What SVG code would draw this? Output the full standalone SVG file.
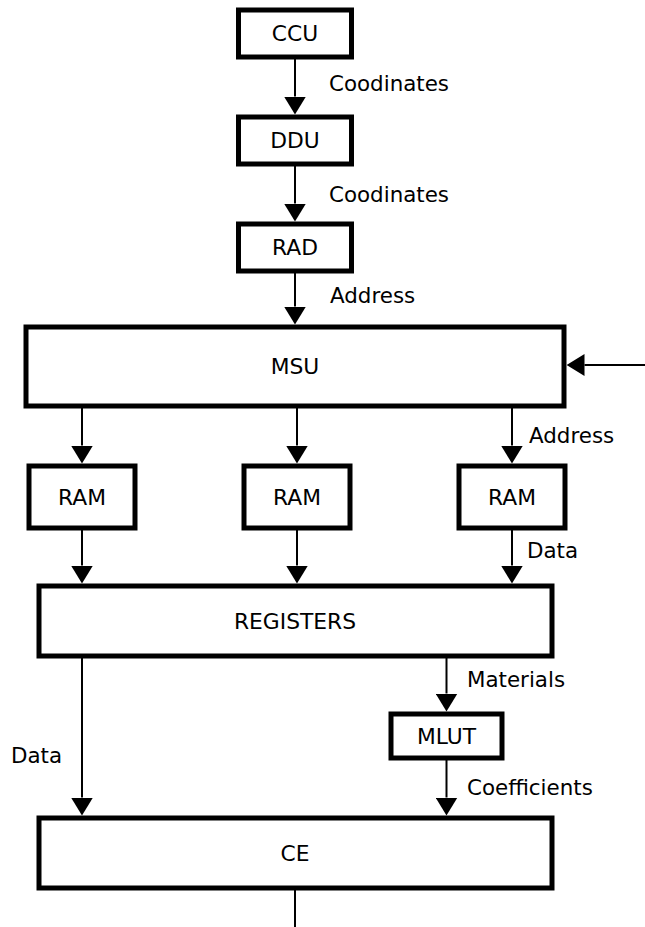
<svg xmlns="http://www.w3.org/2000/svg" width="645" height="927" viewBox="0 0 645 927">
  <style>
    .box { fill: #ffffff; stroke: #000000; stroke-width: 5; }
    .name { font-family: "DejaVu Sans", "Liberation Sans", sans-serif; font-size: 21.8px; fill: #000000; text-anchor: middle; }
    .lbl { font-family: "DejaVu Sans", "Liberation Sans", sans-serif; font-size: 21.4px; fill: #000000; }
    .wire { stroke: #000000; stroke-width: 2; fill: none; }
    .arrow { marker-end: url(#head); }
  </style>
  <defs>
    <marker id="head" markerUnits="userSpaceOnUse" markerWidth="18" markerHeight="22" viewBox="0 0 18 22" refX="0" refY="11" orient="auto">
      <path d="M0,0 L18,11 L0,22 Z" fill="#000000"/>
    </marker>
  </defs>

  <rect width="645" height="927" fill="#ffffff"/>

  <!-- connectors -->
  <g id="connectors">
    <line class="wire arrow" x1="295" y1="59" x2="295" y2="96.5"/>
    <line class="wire arrow" x1="295" y1="166" x2="295" y2="203.5"/>
    <line class="wire arrow" x1="295" y1="273" x2="295" y2="306.5"/>
    <line class="wire arrow" x1="645" y1="365" x2="584.5" y2="365"/>
    <line class="wire arrow" x1="82" y1="408" x2="82" y2="445.5"/>
    <line class="wire arrow" x1="297" y1="408" x2="297" y2="445.5"/>
    <line class="wire arrow" x1="512" y1="408" x2="512" y2="445.5"/>
    <line class="wire arrow" x1="82" y1="530" x2="82" y2="565.5"/>
    <line class="wire arrow" x1="297" y1="530" x2="297" y2="565.5"/>
    <line class="wire arrow" x1="512" y1="530" x2="512" y2="565.5"/>
    <line class="wire arrow" x1="82" y1="658" x2="82" y2="797.5"/>
    <line class="wire arrow" x1="446.5" y1="658" x2="446.5" y2="693.5"/>
    <line class="wire arrow" x1="446.5" y1="760" x2="446.5" y2="797.5"/>
    <line class="wire" x1="295" y1="890" x2="295" y2="927"/>

    <text class="lbl" x="329" y="91">Coodinates</text>
    <text class="lbl" x="329" y="202">Coodinates</text>
    <text class="lbl" x="330" y="303">Address</text>
    <text class="lbl" x="529" y="443">Address</text>
    <text class="lbl" x="527" y="558">Data</text>
    <text class="lbl" x="467" y="687">Materials</text>
    <text class="lbl" x="11" y="763">Data</text>
    <text class="lbl" x="467" y="795">Coefficients</text>
  </g>

  <!-- nodes -->
  <g id="ccu">
    <rect class="box" x="238.5" y="10" width="113" height="47"/>
    <text class="name" x="295" y="41">CCU</text>
  </g>
  <g id="ddu">
    <rect class="box" x="238.5" y="117" width="113" height="47"/>
    <text class="name" x="295" y="148">DDU</text>
  </g>
  <g id="rad">
    <rect class="box" x="238.5" y="224" width="113" height="47"/>
    <text class="name" x="295" y="255">RAD</text>
  </g>
  <g id="msu">
    <rect class="box" x="26" y="327" width="538" height="79"/>
    <text class="name" x="295" y="374">MSU</text>
  </g>
  <g id="ram1">
    <rect class="box" x="29" y="466" width="106" height="62"/>
    <text class="name" x="82" y="505">RAM</text>
  </g>
  <g id="ram2">
    <rect class="box" x="244" y="466" width="106" height="62"/>
    <text class="name" x="297" y="505">RAM</text>
  </g>
  <g id="ram3">
    <rect class="box" x="459" y="466" width="106" height="62"/>
    <text class="name" x="512" y="505">RAM</text>
  </g>
  <g id="registers">
    <rect class="box" x="39" y="586" width="513" height="70"/>
    <text class="name" x="295" y="629">REGISTERS</text>
  </g>
  <g id="mlut">
    <rect class="box" x="391" y="714" width="111" height="44"/>
    <text class="name" x="446.5" y="744">MLUT</text>
  </g>
  <g id="ce">
    <rect class="box" x="39" y="818" width="513" height="70"/>
    <text class="name" x="295" y="861">CE</text>
  </g>
</svg>
